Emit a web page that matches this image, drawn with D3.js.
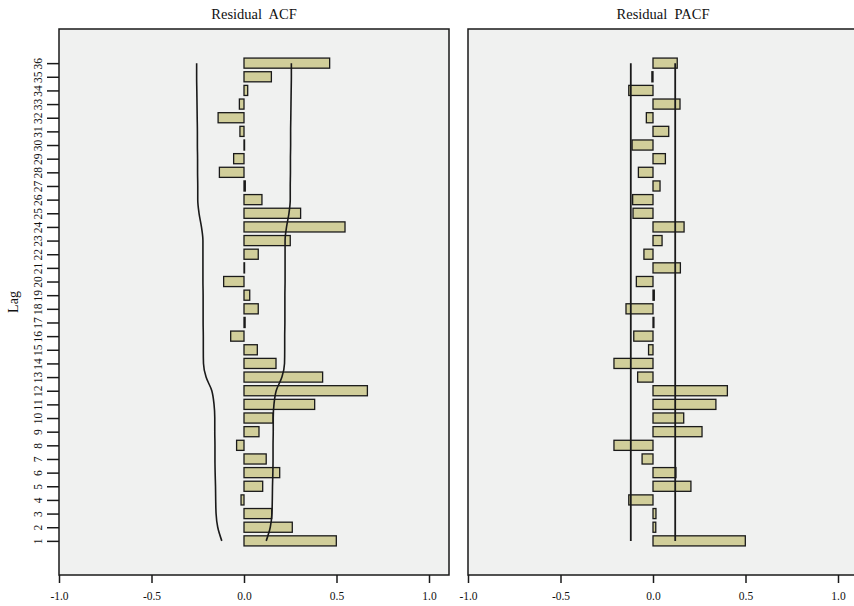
<!DOCTYPE html>
<html>
<head>
<meta charset="utf-8">
<script src="https://cdn.jsdelivr.net/npm/d3@7"></script>
<style>
  html, body { margin: 0; padding: 0; background: #ffffff; }
  svg { display: block; }
  text { font-family: "Liberation Serif", "DejaVu Serif", serif; fill: #111; }
</style>
</head>
<body>
<svg id="chart" width="854" height="606"></svg>
<script>
// Lags 1..36
const lags = d3.range(1, 37);

// Residual autocorrelations, lag 1..36
const acfValues = [
  0.499, 0.261, 0.150, -0.016, 0.101, 0.193, 0.120, -0.040, 0.081, 0.157,
  0.382, 0.667, 0.425, 0.173, 0.072, -0.072, 0.006, 0.077, 0.031, -0.110,
  0.003, 0.077, 0.250, 0.546, 0.306, 0.097, 0.007, -0.133, -0.056, 0.003,
  -0.022, -0.140, -0.025, 0.020, 0.148, 0.463
];

// Upper confidence limit of the ACF (lower limit is its negative)
const acfLimit = [
  0.120, 0.142, 0.151, 0.153, 0.154, 0.156, 0.157, 0.157, 0.158, 0.158,
  0.162, 0.174, 0.205, 0.219, 0.220, 0.220, 0.221, 0.221, 0.221, 0.222,
  0.222, 0.222, 0.222, 0.230, 0.243, 0.250, 0.250, 0.251, 0.251, 0.252,
  0.252, 0.253, 0.254, 0.255, 0.256, 0.256
];

// Residual partial autocorrelations, lag 1..36
const pacfValues = [
  0.499, 0.015, 0.016, -0.131, 0.205, 0.124, -0.059, -0.211, 0.265, 0.166,
  0.340, 0.402, -0.083, -0.211, -0.024, -0.104, 0.005, -0.146, 0.007, -0.090,
  0.148, -0.049, 0.049, 0.168, -0.108, -0.110, 0.038, -0.079, 0.067, -0.113,
  0.085, -0.036, 0.146, -0.131, -0.006, 0.131
];

// Confidence limit of the PACF
const pacfLimit = 0.12;

const xTicks = [-1.0, -0.5, 0.0, 0.5, 1.0];
const titles = ["Residual  ACF", "Residual  PACF"];

const svg = d3.select("#chart");

const panelTop = 29, panelBottom = 575, panelW = 390;
const panelsLeft = [59, 468];

const y = d3.scaleLinear().domain([-1.5, 38.5]).range([panelBottom, panelTop]);
const halfBar = 0.37;

const barFill = "#d1ce9a";
const ink = "#1a1a1a";
const panelFill = "#f0f1f0";
const serif = "Liberation Serif, DejaVu Serif, serif";

// plain hyphen for negatives
const fmtX = d => d3.format(".1f")(d).replace("\u2212", "-");

function drawPanel(left, title, values, showY, limitFn) {
  const x = d3.scaleLinear().domain([-1, 1]).range([left, left + 370]);
  const g = svg.append("g");

  // panel background and frame
  g.append("rect")
    .attr("x", left).attr("y", panelTop)
    .attr("width", panelW).attr("height", panelBottom - panelTop)
    .attr("fill", panelFill)
    .attr("stroke", ink).attr("stroke-width", 1.5);

  // title
  g.append("text")
    .attr("x", left + panelW / 2).attr("y", 19)
    .attr("text-anchor", "middle")
    .attr("font-size", 14.5)
    .attr("xml:space", "preserve")
    .style("white-space", "pre")
    .text(title);

  // bars
  g.selectAll("rect.bar").data(lags).enter().append("rect")
    .attr("class", "bar")
    .attr("x", k => Math.min(x(0), x(values[k - 1])))
    .attr("y", k => y(k + halfBar))
    .attr("width", k => Math.max(0.5, Math.abs(x(values[k - 1]) - x(0))))
    .attr("height", k => y(k - halfBar) - y(k + halfBar))
    .attr("fill", barFill)
    .attr("stroke", ink).attr("stroke-width", 1.3);

  limitFn(g, x);

  // bottom axis
  const xAxis = d3.axisBottom(x).tickValues(xTicks)
    .tickFormat(fmtX).tickSize(8).tickSizeOuter(0);
  const ax = g.append("g").attr("transform", `translate(0,${panelBottom})`).call(xAxis);
  ax.attr("font-family", serif);
  ax.select(".domain").remove();
  ax.selectAll(".tick line").attr("stroke", ink).attr("stroke-width", 1.5);
  ax.selectAll(".tick text")
    .attr("y", 17).attr("font-size", 11.5)
    .attr("font-family", serif).attr("fill", "#111");

  if (showY) {
    const yAxis = d3.axisLeft(y).tickValues(lags).tickFormat(d3.format("d"))
      .tickSize(12).tickSizeOuter(0);
    const ay = g.append("g").attr("transform", `translate(${left},0)`).call(yAxis);
    ay.attr("font-family", serif);
    ay.select(".domain").remove();
    ay.selectAll(".tick line").attr("stroke", ink).attr("stroke-width", 1.5);
    ay.selectAll(".tick text")
      .attr("x", 0).attr("dy", 0).attr("y", 0)
      .attr("transform", "translate(-17,0) rotate(-90)")
      .attr("text-anchor", "middle")
      .attr("font-size", 11.5)
      .attr("font-family", serif).attr("fill", "#111");

    svg.append("text")
      .attr("transform", `translate(18,${(panelTop + panelBottom) / 2}) rotate(-90)`)
      .attr("text-anchor", "middle")
      .attr("font-size", 14)
      .text("Lag");
  }
}

// ACF panel with curved confidence bounds
drawPanel(panelsLeft[0], titles[0], acfValues, true, (g, x) => {
  const upper = d3.line().x(k => x(acfLimit[k - 1])).y(k => y(k)).curve(d3.curveMonotoneY);
  const lower = d3.line().x(k => x(-acfLimit[k - 1])).y(k => y(k)).curve(d3.curveMonotoneY);
  g.append("path").attr("d", upper(lags)).attr("fill", "none")
    .attr("stroke", ink).attr("stroke-width", 1.6);
  g.append("path").attr("d", lower(lags)).attr("fill", "none")
    .attr("stroke", ink).attr("stroke-width", 1.6);
});

// PACF panel with constant confidence bounds
drawPanel(panelsLeft[1], titles[1], pacfValues, false, (g, x) => {
  [-pacfLimit, pacfLimit].forEach(v => {
    g.append("line")
      .attr("x1", x(v)).attr("x2", x(v))
      .attr("y1", y(1)).attr("y2", y(36))
      .attr("stroke", ink).attr("stroke-width", 1.8);
  });
});
</script>
</body>
</html>
